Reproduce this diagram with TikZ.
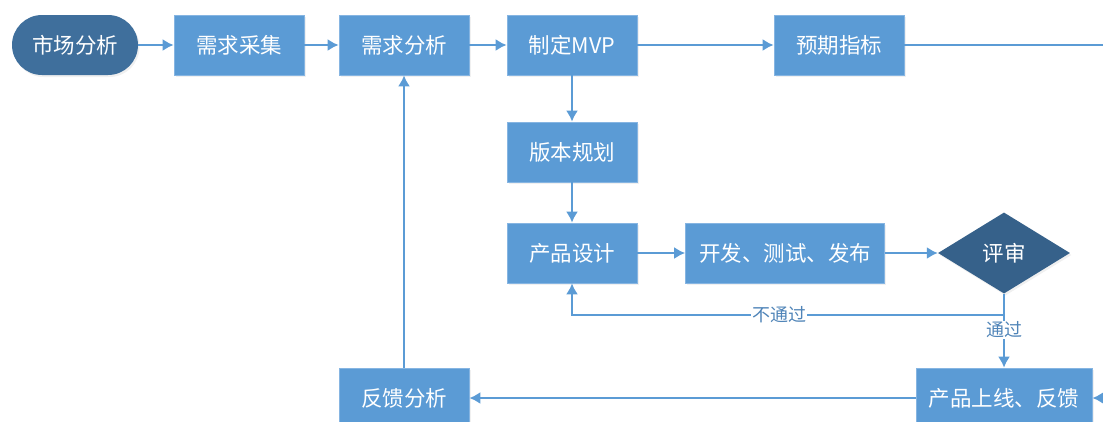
\documentclass[tikz,border=0pt]{standalone}
\usepackage{fontspec}
\setmainfont{Noto Sans CJK SC}
\usepackage{tikz}
\usetikzlibrary{arrows.meta}
\usetikzlibrary{positioning}
\usetikzlibrary{shapes.geometric}
\usetikzlibrary{shadows}
\definecolor{boxblue}{HTML}{5B9BD5}
\definecolor{boxedge}{HTML}{86B5E2}
\definecolor{pillblue}{HTML}{3F6F9C}
\definecolor{darkblue}{HTML}{36618A}
\definecolor{labelblue}{HTML}{4F84B8}
\tikzstyle{every node}+=[inner sep=0pt]
\tikzstyle{block} = [rectangle, draw=boxedge, line width=0.8pt, fill=boxblue, text=white, font=\fontsize{21.5}{25}\selectfont, text centered, minimum height=60pt, minimum width=130pt, drop shadow={opacity=0.12, shadow xshift=1.5pt, shadow yshift=-2pt}]
\tikzstyle{pill} = [block, draw=none, fill=pillblue, rounded corners=30pt, minimum width=126pt]
\tikzstyle{decision} = [diamond, fill=darkblue, text=white, font=\fontsize{21.5}{25}\selectfont, minimum width=132pt, minimum height=81pt, drop shadow={opacity=0.12, shadow xshift=1.5pt, shadow yshift=-2pt}]
\tikzstyle{link} = [draw=boxblue, line width=1.8pt]
\tikzstyle{line} = [link, -{Latex[length=11pt, width=12pt]}]
\tikzstyle{value} = [fill=white, text=labelblue, font=\fontsize{18}{21}\selectfont, inner sep=1pt]

\begin{document}
\begin{tikzpicture}
          \useasboundingbox (0pt,0pt) rectangle (1103pt,-421pt);
          % Place nodes
          \node [pill] (mkt) at (75pt,-45pt) {市场分析};
          \node [block, right of=mkt, node distance=164pt] (collect) {需求采集};
          \node [block, right of=collect, node distance=165pt] (analyze) {需求分析};
          \node [block, right of=analyze, node distance=168pt] (mvp) {制定MVP};
          \node [block, right of=mvp, node distance=267pt] (target) {预期指标};
          \coordinate [right of=target, node distance=264pt] (out1);
          \node [block, below of=mvp, node distance=107pt] (plan) {版本规划};
          \node [block, below of=plan, node distance=101pt] (design) {产品设计};
          \node [block, right of=design, node distance=213pt, minimum width=199pt] (dev) {开发、测试、发布};
          \node [decision, right of=dev, node distance=219pt] (review) {评审};
          \node [block, below of=review, node distance=145pt, minimum width=176pt] (launch) {产品上线、反馈};
          \coordinate [right of=launch, node distance=99pt] (in1);
          \node [block, left of=launch, node distance=600pt] (feedback) {反馈分析};
          % Draw edges
          \path [line] (mkt) -- (collect);
          \path [line] (collect) -- (analyze);
          \path [line] (analyze) -- (mvp);
          \path [line] (mvp) -- (target);
          \path [link] (target) -- (out1);
          \path [line] (mvp) -- (plan);
          \path [line] (plan) -- (design);
          \path [line] (design) -- (dev);
          \path [line] (dev) -- (review);
          \path [line] (review.south) -- ++(0,-21pt) -| node [value, pos=0.26] {不通过} (design.south);
          \path [line] (review.south) -- node [value, pos=0.49] {通过} (launch.north);
          \path [line] (in1) -- (launch);
          \path [line] (launch) -- (feedback);
          \path [line] (feedback) -- (analyze);
        \end{tikzpicture}
\end{document}
